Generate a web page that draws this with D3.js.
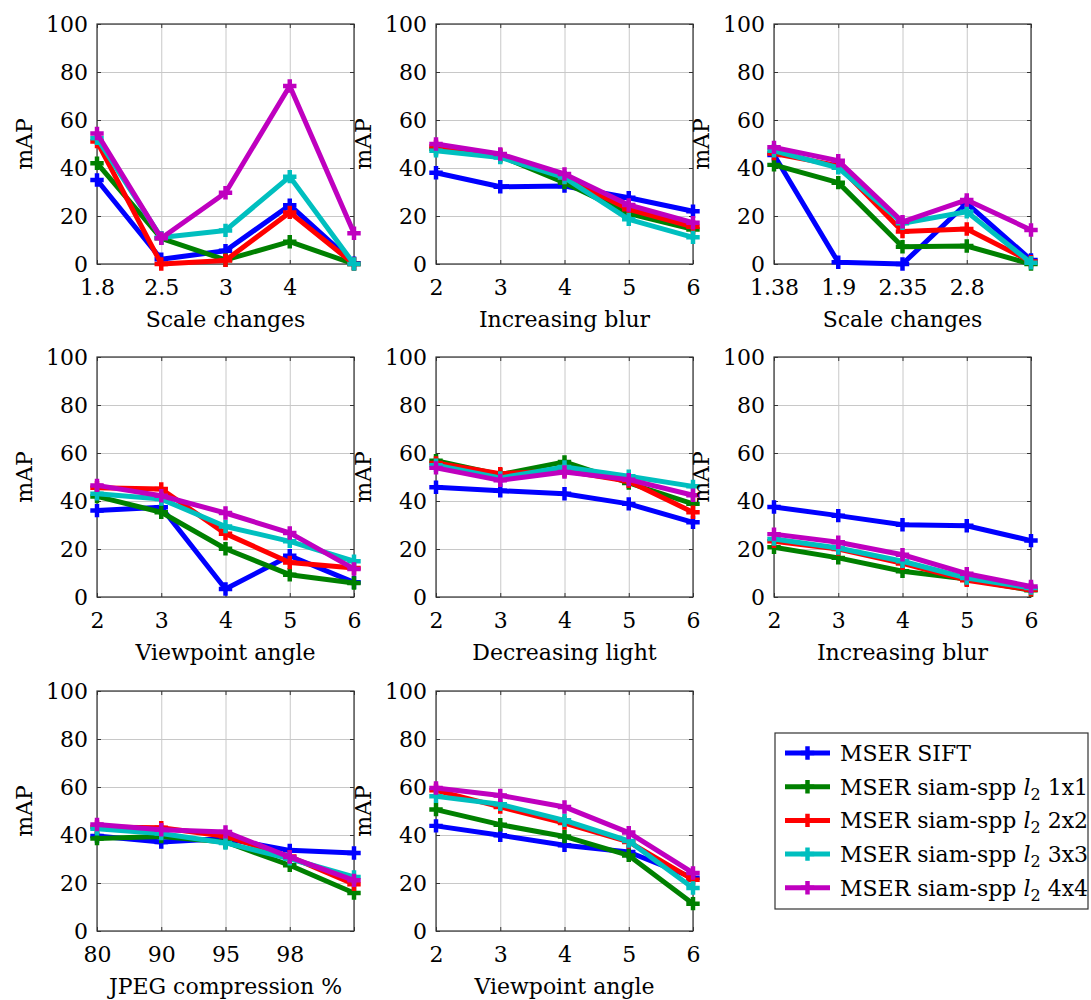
<!DOCTYPE html>
<html>
<head>
<meta charset="utf-8">
<script src="https://cdn.jsdelivr.net/npm/d3@7"></script>
<style>
  body { margin: 0; background: #fff; }
</style>
</head>
<body>
<script>
// panel x-axis titles and category tick labels
var panelLabels = ["Scale changes", "Increasing blur", "Scale changes",
                   "Viewpoint angle", "Decreasing light", "Increasing blur",
                   "JPEG compression %", "Viewpoint angle"];
var panelTicks = [
  ["1.8", "2.5", "3", "4", ""],
  ["2", "3", "4", "5", "6"],
  ["1.38", "1.9", "2.35", "2.8", ""],
  ["2", "3", "4", "5", "6"],
  ["2", "3", "4", "5", "6"],
  ["2", "3", "4", "5", "6"],
  ["80", "90", "95", "98", ""],
  ["2", "3", "4", "5", "6"]
];
var yTicks = [0, 20, 40, 60, 80, 100];

var legendSuffix = ["", "1x1", "2x2", "3x3", "4x4"];

// mAP values, one row per panel
var mserSift = [
  [35, 2, 5.5, 24.5, 0.3],
  [38, 32.2, 32.5, 27.6, 22],
  [45.4, 0.7, 0, 25.3, 1.7],
  [36, 37.4, 3.3, 17.2, 6.1],
  [45.7, 44.3, 43, 38.8, 31.1],
  [37.5, 33.9, 30.1, 29.7, 23.5],
  [39.6, 37.1, 38.5, 33.6, 32.5],
  [43.8, 39.9, 35.7, 32.9, 22.2]
];
var spp1x1 = [
  [42, 10.7, 1.7, 9.3, 0],
  [48, 45, 33.9, 21, 14.4],
  [41.3, 33.9, 7.2, 7.5, 0],
  [41.9, 35.3, 20.1, 9.3, 5.8],
  [56.8, 51, 56.3, 47.5, 38.8],
  [20.7, 16.3, 10.7, 7.5, 2.8],
  [38.5, 39.4, 37.1, 27.4, 15.8],
  [50.6, 44.3, 39.4, 31.5, 11.4]
];
var spp2x2 = [
  [51, 0, 1.5, 21.5, 0],
  [49, 45.5, 36, 22.8, 15.5],
  [46, 41, 13.5, 14.6, 1],
  [45.5, 45, 26.4, 14.4, 12.1],
  [55.8, 51.4, 52.6, 48.2, 35.3],
  [23.2, 20, 14, 7, 3],
  [43.3, 43, 39.5, 31, 19.5],
  [58.6, 51.7, 45, 37.1, 21.4]
];
var spp3x3 = [
  [52.4, 11, 14, 36.4, 0],
  [47.2, 44.4, 36, 18.6, 11.1],
  [47.2, 40.1, 17, 21.8, 0.5],
  [43, 40.8, 29.4, 23.2, 14.9],
  [54.9, 49.6, 54.2, 50.3, 46.1],
  [24.2, 20.4, 14.9, 7.9, 3.7],
  [42.6, 40.6, 36.7, 30.1, 22.5],
  [56.1, 52.8, 46.1, 37.5, 17.9]
];
var spp4x4 = [
  [54.4, 10.7, 29.7, 74.2, 12.8],
  [50, 45.8, 37.5, 24.6, 17.2],
  [48.6, 43, 17.6, 26.7, 14.2],
  [46.5, 42.2, 35, 26.7, 11.7],
  [53.8, 48.6, 52.1, 48.9, 42.4],
  [26.2, 22.8, 17.6, 9.7, 4.4],
  [44.4, 42.2, 41.3, 30.8, 21.1],
  [59.6, 56.5, 51.7, 41, 24.2]
];

var allSeries = [mserSift, spp1x1, spp2x2, spp3x3, spp4x4];
var colors = ["#0000ff", "#008000", "#ff0000", "#00bfbf", "#bf00bf"];

var width = 1091, height = 1000
  , plotW = 257, plotH = 240
  , colX = [97, 436, 774]
  , rowY = [24, 357, 691]
  , fontSize = 22
  , serif = "DejaVu Serif";

var svg = d3.select("body").append("svg")
    .attr("width", width)
    .attr("height", height)
    .style("font-family", serif);

var xScale = d3.scalePoint().domain(d3.range(5)).range([0, plotW]);
var yScale = d3.scaleLinear().domain([0, 100]).range([plotH, 0]);

var line = d3.line()
    .x(function(d, i) { return xScale(i); })
    .y(function(d) { return yScale(d); });

var plus = d3.symbol().type(d3.symbolCross).size(100);

function styleAxis(sel) {
  sel.attr("font-family", null).attr("font-size", null);
  sel.select(".domain").remove();
  sel.selectAll(".tick line").attr("stroke", "#333").attr("stroke-width", 1);
  sel.selectAll("text").style("font-size", fontSize + "px").style("font-family", serif);
}

panelLabels.forEach(function(label, p) {
  var g = svg.append("g")
      .attr("transform", "translate(" + colX[p % 3] + "," + rowY[Math.floor(p / 3)] + ")");

  // grid
  g.append("g")
      .attr("transform", "translate(0," + plotH + ")")
      .call(d3.axisBottom(xScale).tickSize(-plotH).tickFormat(""))
      .call(function(s) { s.select(".domain").remove(); s.selectAll("line").attr("stroke", "#c8c8c8"); });
  g.append("g")
      .call(d3.axisLeft(yScale).tickValues(yTicks).tickSize(-plotW).tickFormat(""))
      .call(function(s) { s.select(".domain").remove(); s.selectAll("line").attr("stroke", "#c8c8c8"); });

  // axes with inner ticks
  g.append("g")
      .attr("transform", "translate(0," + plotH + ")")
      .call(d3.axisBottom(xScale).tickSize(-4).tickPadding(15)
            .tickFormat(function(i) { return panelTicks[p][i]; }))
      .call(styleAxis);
  g.append("g")
      .call(d3.axisLeft(yScale).tickValues(yTicks).tickSize(-4).tickPadding(9))
      .call(styleAxis);
  g.append("g")
      .call(d3.axisTop(xScale).tickSize(-4).tickFormat(""))
      .call(styleAxis);
  g.append("g")
      .attr("transform", "translate(" + plotW + ",0)")
      .call(d3.axisRight(yScale).tickValues(yTicks).tickSize(-4).tickFormat(""))
      .call(styleAxis);

  g.append("rect")
      .attr("width", plotW)
      .attr("height", plotH)
      .attr("fill", "none")
      .attr("stroke", "#333")
      .attr("stroke-width", 1.2);

  // series
  allSeries.forEach(function(series, s) {
    var vals = series[p];
    g.append("path")
        .attr("d", line(vals))
        .attr("fill", "none")
        .attr("stroke", colors[s])
        .attr("stroke-width", 5)
        .attr("stroke-linejoin", "round");
    g.selectAll(null)
        .data(vals)
        .enter().append("path")
        .attr("d", plus)
        .attr("fill", colors[s])
        .attr("transform", function(d, i) { return "translate(" + xScale(i) + "," + yScale(d) + ")"; });
  });

  // labels
  g.append("text")
      .attr("transform", "translate(-65," + (plotH / 2) + ") rotate(-90)")
      .attr("text-anchor", "middle")
      .style("font-size", fontSize + "px")
      .text("mAP");
  g.append("text")
      .attr("x", plotW / 2)
      .attr("y", plotH + 63)
      .attr("text-anchor", "middle")
      .style("font-size", fontSize + "px")
      .text(label);
});

// legend
var lg = svg.append("g").attr("transform", "translate(775,733)");
lg.append("rect")
    .attr("width", 313)
    .attr("height", 176)
    .attr("fill", "#fff")
    .attr("stroke", "#333")
    .attr("stroke-width", 1.2);

colors.forEach(function(c, i) {
  var cy = 20 + i * 33.7;
  lg.append("line")
      .attr("x1", 10).attr("x2", 55)
      .attr("y1", cy).attr("y2", cy)
      .attr("stroke", c)
      .attr("stroke-width", 5);
  lg.append("path")
      .attr("d", plus)
      .attr("fill", c)
      .attr("transform", "translate(32.5," + cy + ")");
  var t = lg.append("text")
      .attr("x", 65)
      .attr("y", cy + 8)
      .style("font-size", fontSize + "px");
  if (i === 0) {
    t.text("MSER SIFT");
  } else {
    t.append("tspan").text("MSER siam-spp ");
    t.append("tspan").attr("font-style", "italic").text("l");
    t.append("tspan").style("font-size", "16px").attr("dy", 5).text("2");
    t.append("tspan").attr("dy", -5).text(" " + legendSuffix[i]);
  }
});
</script>
</body>
</html>
